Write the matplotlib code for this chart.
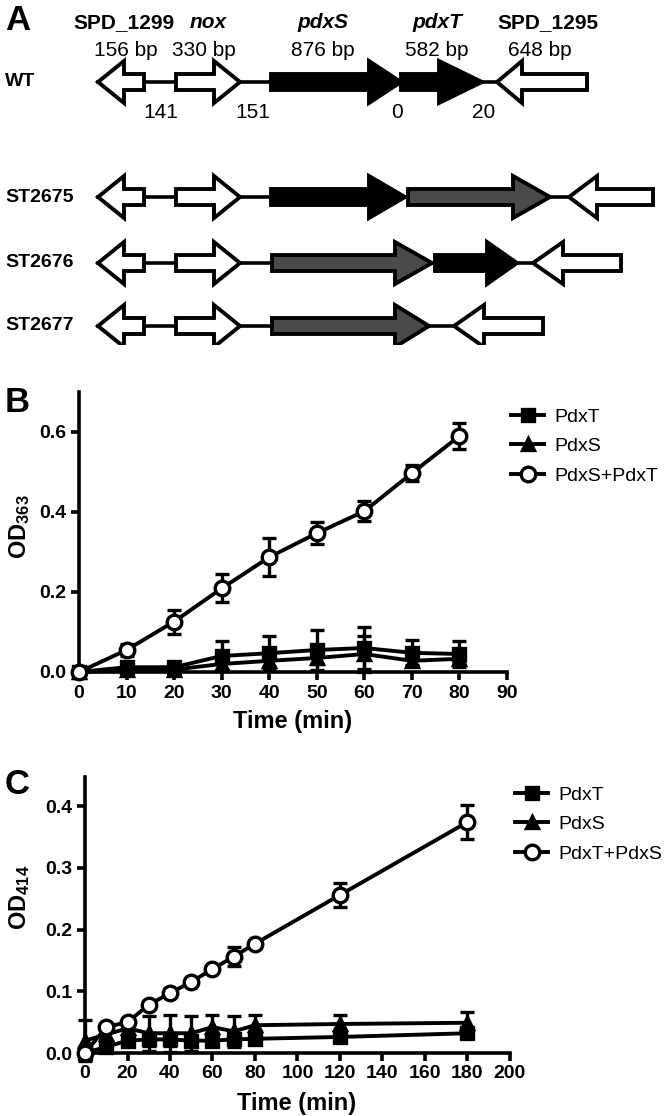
import matplotlib.pyplot as plt
from matplotlib.patches import Polygon
import numpy as np

plt.rcParams['font.family'] = ['Liberation Sans', 'DejaVu Sans']
plt.rcParams['mathtext.fontset'] = 'custom'
plt.rcParams['mathtext.rm'] = 'Liberation Sans:bold'
plt.rcParams['mathtext.bf'] = 'Liberation Sans:bold'
plt.rcParams['mathtext.default'] = 'bf'

# ---- panel A data
gene_names = ['SPD_1299', 'nox', 'pdxS', 'pdxT', 'SPD_1295']
gene_italic = [False, True, True, True, False]
gene_sizes = ['156 bp', '330 bp', '876 bp', '582 bp', '648 bp']
spacers = ['141', '151', '0', '20']
strains = ['WT', 'ST2675', 'ST2676', 'ST2677']

# ---- panel B data
time_b = [0, 10, 20, 30, 40, 50, 60, 70, 80]
pdxT_b = [0.0, 0.012, 0.012, 0.040, 0.047, 0.055, 0.060, 0.048, 0.045]
pdxT_b_err = [0.0, 0.008, 0.008, 0.037, 0.042, 0.050, 0.053, 0.033, 0.033]
pdxS_b = [0.0, 0.005, 0.006, 0.020, 0.028, 0.035, 0.045, 0.028, 0.033]
pdxS_b_err = [0.0, 0.005, 0.005, 0.015, 0.015, 0.015, 0.045, 0.010, 0.010]
pdxST_b = [0.0, 0.055, 0.126, 0.209, 0.287, 0.347, 0.402, 0.497, 0.590]
pdxST_b_err = [0.0, 0.015, 0.030, 0.035, 0.048, 0.027, 0.025, 0.020, 0.032]

# ---- panel C data
time_c = [0, 10, 20, 30, 40, 50, 60, 70, 80, 120, 180]
pdxT_c = [0.0, 0.010, 0.020, 0.022, 0.022, 0.020, 0.020, 0.022, 0.023, 0.026, 0.032]
pdxT_c_err = [0.005, 0.005, 0.006, 0.010, 0.010, 0.008, 0.006, 0.008, 0.006, 0.006, 0.006]
pdxS_c = [0.020, 0.030, 0.040, 0.032, 0.032, 0.032, 0.042, 0.035, 0.045, 0.047, 0.049]
pdxS_c_err = [0.033, 0.010, 0.010, 0.028, 0.030, 0.028, 0.020, 0.025, 0.017, 0.015, 0.017]
pdxTS_c = [0.0, 0.042, 0.050, 0.078, 0.097, 0.115, 0.136, 0.156, 0.177, 0.256, 0.374]
pdxTS_c_err = [0.0, 0.004, 0.004, 0.004, 0.004, 0.004, 0.004, 0.015, 0.004, 0.020, 0.027]

W, H = 666, 1116
fig = plt.figure(figsize=(W / 100, H / 100), dpi=100)


def fx(px):
    return px / W


def fy(py):
    return 1 - py / H


# ================= panel A : operon diagram (pixel coordinates)
axa = fig.add_axes([0, fy(345), 1, 345 / H])
axa.set_xlim(0, W)
axa.set_ylim(345, 0)
axa.axis('off')

# arrow layout per strain row: (tail, head base, tip, fill)
layout = {
    'WT': (82, [(144, 124, 98, 'w'), (176, 214, 240, 'w'), (271, 369, 401, 'k'),
                (401, 439, 482, 'k'), (587, 522, 497, 'w')]),
    'ST2675': (197, [(144, 124, 98, 'w'), (176, 214, 240, 'w'), (271, 369, 405, 'k'),
                     (408, 513, 550, 'g'), (653, 597, 569, 'w')]),
    'ST2676': (263, [(144, 124, 98, 'w'), (176, 214, 240, 'w'), (272, 395, 432, 'g'),
                     (435, 487, 517, 'k'), (621, 563, 533, 'w')]),
    'ST2677': (326, [(144, 124, 98, 'w'), (176, 214, 240, 'w'), (272, 395, 429, 'g'),
                     (543, 484, 454, 'w')]),
}
fills = {'w': 'white', 'k': 'black', 'g': '#4a4a4a'}
bh, hh = 8, 21

for name in strains:
    y, arrows = layout[name]
    xs = [v for a in arrows for v in a[:3]]
    axa.plot([min(xs), max(xs)], [y, y], color='black', lw=2.6, zorder=1)
    for t, hb, tip, f in arrows:
        pts = [(t, y - bh), (hb, y - bh), (hb, y - hh), (tip, y),
               (hb, y + hh), (hb, y + bh), (t, y + bh)]
        axa.add_patch(Polygon(pts, closed=True, facecolor=fills[f],
                              edgecolor='black', lw=2.8, joinstyle='miter', zorder=2))
    axa.text(5, y, name, fontsize=14, fontweight='bold', ha='left', va='center')

name_x = [124, 208, 323, 437, 548]
size_x = [126, 204, 323, 437, 540]
for n, it, s, nx, sx in zip(gene_names, gene_italic, gene_sizes, name_x, size_x):
    axa.text(nx, 23, n, fontsize=15, fontweight='bold',
             fontstyle='italic' if it else 'normal', ha='center', va='center')
    axa.text(sx, 51, s, fontsize=15, ha='center', va='center')
for s, sx in zip(spacers, [161, 253, 397, 484]):
    axa.text(sx, 112, s, fontsize=15, ha='center', va='center')

fig.text(fx(5), fy(21), 'A', fontsize=25, fontweight='bold', va='center')
fig.text(fx(5), fy(402), 'B', fontsize=25, fontweight='bold', va='center')
fig.text(fx(5), fy(785), 'C', fontsize=25, fontweight='bold', va='center')


def style_axes(ax):
    for s in ['top', 'right']:
        ax.spines[s].set_visible(False)
    for s in ['left', 'bottom']:
        ax.spines[s].set_linewidth(2.6)
    ax.tick_params(width=2.6, length=6, direction='out', labelsize=14, pad=3)
    for lab in ax.get_xticklabels() + ax.get_yticklabels():
        lab.set_fontweight('bold')


def draw_series(ax, t, y, e, marker, face, ms, label):
    ax.errorbar(t, y, yerr=e, fmt='none', ecolor='black', elinewidth=2.4,
                capsize=5, capthick=2.4, clip_on=False, zorder=3)
    line, = ax.plot(t, y, color='black', lw=2.8, marker=marker, ms=ms,
                    mfc=face, mec='black', mew=2.4, clip_on=False,
                    label=label, zorder=4)
    return line


leg_kw = dict(loc='upper left', frameon=False, fontsize=14, handlelength=1.7,
              handletextpad=0.55, labelspacing=0.62, borderpad=0, borderaxespad=0)

# ================= panel B
axb = fig.add_axes([fx(79), fy(672), fx(507) - fx(79), fy(392) - fy(672)])
h1 = draw_series(axb, time_b, pdxT_b, pdxT_b_err, 's', 'black', 8.5, 'PdxT')
h2 = draw_series(axb, time_b, pdxS_b, pdxS_b_err, '^', 'black', 9, 'PdxS')
h3 = draw_series(axb, time_b, pdxST_b, pdxST_b_err, 'o', 'white', 10.5, 'PdxS+PdxT')
axb.set_xlim(0, 90)
axb.set_ylim(0, 0.7)
axb.set_xticks(np.arange(0, 91, 10))
axb.set_yticks([0.0, 0.2, 0.4, 0.6])
axb.set_yticklabels(['0.0', '0.2', '0.4', '0.6'])
style_axes(axb)
axb.set_xlabel('Time (min)', fontsize=17, fontweight='bold')
axb.xaxis.set_label_coords(fx(293), fy(710), transform=fig.transFigure)
fig.text(fx(20), fy(527), 'OD$_{363}$', fontsize=17, fontweight='bold',
         rotation=90, ha='center', va='center')
fig.legend(handles=[h1, h2, h3], bbox_to_anchor=(fx(511), fy(408)), **leg_kw)

# ================= panel C
axc = fig.add_axes([fx(85), fy(1053), fx(510) - fx(85), fy(777) - fy(1053)])
g1 = draw_series(axc, time_c, pdxT_c, pdxT_c_err, 's', 'black', 8.5, 'PdxT')
g2 = draw_series(axc, time_c, pdxS_c, pdxS_c_err, '^', 'black', 9, 'PdxS')
g3 = draw_series(axc, time_c, pdxTS_c, pdxTS_c_err, 'o', 'white', 10.5, 'PdxT+PdxS')
axc.set_xlim(0, 200)
axc.set_ylim(0, 0.447)
axc.set_xticks(np.arange(0, 201, 20))
axc.set_yticks([0.0, 0.1, 0.2, 0.3, 0.4])
axc.set_yticklabels(['0.0', '0.1', '0.2', '0.3', '0.4'])
style_axes(axc)
axc.set_xlabel('Time (min)', fontsize=17, fontweight='bold')
axc.xaxis.set_label_coords(fx(297), fy(1092), transform=fig.transFigure)
fig.text(fx(20), fy(897), 'OD$_{414}$', fontsize=17, fontweight='bold',
         rotation=90, ha='center', va='center')
fig.legend(handles=[g1, g2, g3], bbox_to_anchor=(fx(515), fy(786)), **leg_kw)

fig.savefig('out.png', dpi=100)
